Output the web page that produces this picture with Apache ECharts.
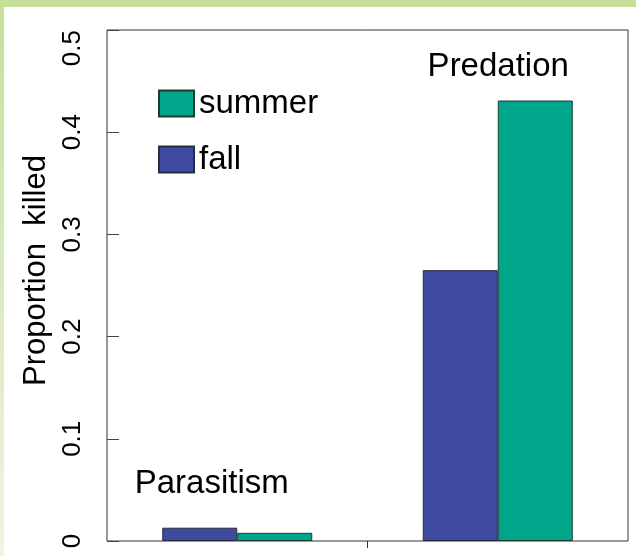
<!DOCTYPE html>
<html>
<head>
<meta charset="utf-8">
<script src="https://cdn.jsdelivr.net/npm/echarts@6/dist/echarts.min.js"></script>
<style>
    html, body { margin: 0; padding: 0; }
    body { width: 636px; height: 556px; background: linear-gradient(to bottom, #c5df9a, #eef5e2); position: relative; overflow: hidden; }
    #panel { position: absolute; left: 4px; top: 7px; right: 0; bottom: 0; background: #fff; }
    #chartdiv { position: absolute; left: 0; top: 0; width: 636px; height: 556px; }
</style>
</head>
<body>
<div id="panel"></div>
<div id="chartdiv"></div>
<script>
var categories = ["Parasitism", "Predation"];
var fallValues = [0.013, 0.265];
var summerValues = [0.008, 0.431];
var yTicks = [0, 0.1, 0.2, 0.3, 0.4, 0.5];

var fontName = "'Liberation Sans', Arial, sans-serif";

function show_chart() {
    var dom = document.getElementById("chartdiv");
    var myChart = echarts.init(dom, null, {renderer: 'canvas'});

    // category name written above one bar of each group
    var fallData = [];
    var summerData = [];
    for (var i = 0; i < categories.length; i++) {
        fallData.push({value: fallValues[i]});
        summerData.push({value: summerValues[i]});
    }
    fallData[0].label = {show: true, position: 'top', distance: 27, offset: [12, 0], formatter: categories[0]};
    summerData[1].label = {show: true, position: 'top', distance: 17, offset: [-37, 0], formatter: categories[1]};

    var option = {
        animation: false,
        textStyle: {fontFamily: fontName},
        grid: {
            left: 107,
            right: 8,
            top: 30,
            bottom: 15,
            show: true,
            borderColor: '#333',
            borderWidth: 1,
            backgroundColor: 'transparent',
            outerBoundsMode: 'none'
        },
        legend: {
            data: ['summer', 'fall'],
            orient: 'vertical',
            left: 158,
            top: 87,
            padding: 0,
            itemGap: 23,
            itemWidth: 35,
            itemHeight: 26,
            icon: 'rect',
            textStyle: {fontSize: 33, color: '#000', fontFamily: fontName}
        },
        xAxis: [
            {
                type: 'category',
                data: categories,
                axisLine: {show: false},
                axisTick: {show: false},
                axisLabel: {show: false},
                splitLine: {show: false}
            },
            {
                // only the middle tick between the two groups
                type: 'category',
                boundaryGap: false,
                position: 'bottom',
                data: ['', '', ''],
                axisLine: {show: false},
                axisLabel: {show: false},
                splitLine: {show: false},
                axisTick: {
                    show: true,
                    length: 7,
                    interval: function (index) { return index === 1; },
                    lineStyle: {color: '#333', width: 1}
                }
            }
        ],
        yAxis: {
            type: 'value',
            min: yTicks[0],
            max: yTicks[yTicks.length - 1],
            interval: 0.1,
            name: 'Proportion  killed',
            nameLocation: 'middle',
            nameGap: 54,
            nameRotate: 90,
            nameTextStyle: {fontSize: 31, color: '#000', fontFamily: fontName, padding: [0, 0, 0, 30]},
            axisLine: {show: false},
            axisTick: {show: true, inside: true, length: 12, lineStyle: {color: '#444'}},
            splitLine: {show: false},
            axisLabel: {
                rotate: 90,
                margin: 21,
                fontSize: 26,
                color: '#000',
                fontFamily: fontName,
                alignMaxLabel: 'right',
                formatter: function (v) { return String(Math.round(v * 10) / 10); }
            }
        },
        series: [
            {
                name: 'fall',
                type: 'bar',
                barWidth: 75,
                barGap: '0%',
                data: fallData,
                itemStyle: {color: '#3f4b9e', borderColor: '#2a2a40', borderWidth: 1},
                label: {fontSize: 33, color: '#000', fontFamily: fontName}
            },
            {
                name: 'summer',
                type: 'bar',
                barWidth: 75,
                barGap: '0%',
                data: summerData,
                itemStyle: {color: '#00a68a', borderColor: '#1f3a33', borderWidth: 1},
                label: {fontSize: 33, color: '#000', fontFamily: fontName}
            }
        ]
    };

    myChart.setOption(option);
}

show_chart();
</script>
</body>
</html>
